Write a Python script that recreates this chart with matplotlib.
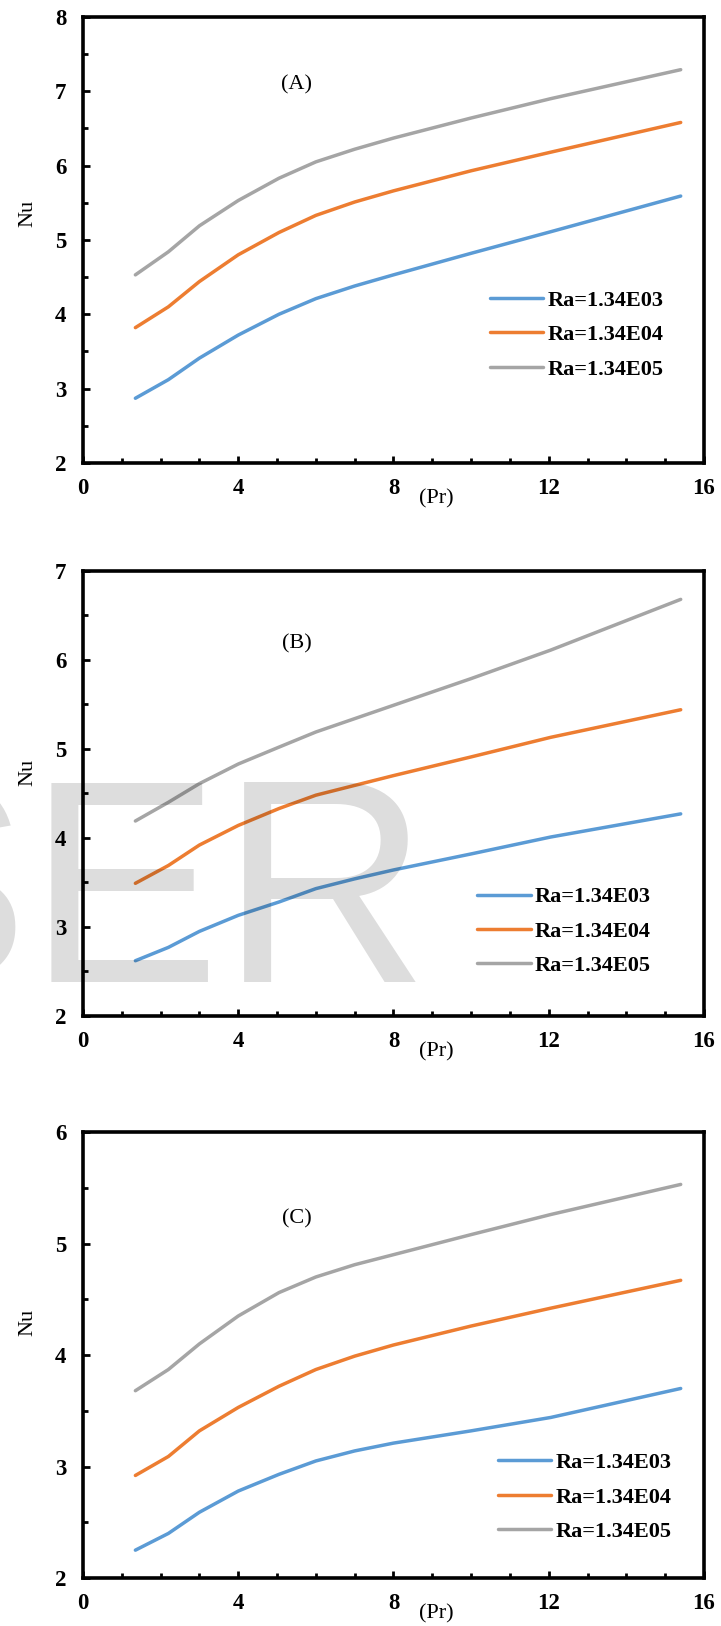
import numpy as np
import matplotlib
matplotlib.use("Agg")
import matplotlib.pyplot as plt
from matplotlib.ticker import MultipleLocator

plt.rcParams['font.family'] = ['Liberation Serif', 'DejaVu Serif']

#DATA
pr = [1.35, 2.2, 3.0, 4.0, 5.05, 6.0, 7.0, 8.0, 10.0, 12.05, 15.4]

labels = ['Ra=1.34E03', 'Ra=1.34E04', 'Ra=1.34E05']
colors = ['#5B9BD5', '#ED7D31', '#A5A5A5']

nuA = [[2.87, 3.12, 3.41, 3.72, 4.00, 4.21, 4.38, 4.53, 4.82, 5.11, 5.59],
       [3.82, 4.10, 4.44, 4.80, 5.10, 5.33, 5.51, 5.66, 5.93, 6.18, 6.58],
       [4.53, 4.84, 5.19, 5.53, 5.83, 6.05, 6.22, 6.37, 6.64, 6.90, 7.29]]
nuB = [[2.62, 2.77, 2.95, 3.13, 3.28, 3.43, 3.54, 3.64, 3.82, 4.01, 4.27],
       [3.49, 3.69, 3.92, 4.14, 4.33, 4.48, 4.59, 4.70, 4.91, 5.13, 5.44],
       [4.19, 4.40, 4.61, 4.83, 5.02, 5.19, 5.34, 5.49, 5.79, 6.11, 6.68]]
nuC = [[2.25, 2.40, 2.59, 2.78, 2.93, 3.05, 3.14, 3.21, 3.32, 3.44, 3.70],
       [2.92, 3.09, 3.32, 3.53, 3.72, 3.87, 3.99, 4.09, 4.26, 4.42, 4.67],
       [3.68, 3.87, 4.10, 4.35, 4.56, 4.70, 4.81, 4.90, 5.08, 5.26, 5.53]]

panels = ['(A)', '(B)', '(C)']
ylims = [(2, 8), (2, 7), (2, 6)]
tagY = [7.08, 6.18, 5.22]
legPos = [(0.655, 0.387), (0.635, 0.29), (0.668, 0.281)]
nuY = [0.56, 0.546, 0.574]

fig = plt.figure(figsize=(7.21, 16.26), dpi=100)
boxes = [[0.1151, 0.7153, 0.8613, 0.2743],
         [0.1151, 0.3752, 0.8613, 0.2737],
         [0.1151, 0.0295, 0.8613, 0.2743]]

for i, data in enumerate([nuA, nuB, nuC]):
    ax = fig.add_axes(boxes[i])
    for k in range(3):
        ax.plot(pr, data[k], color=colors[k], lw=2.5, label=labels[k],
                solid_capstyle='round', solid_joinstyle='round')
    ax.set_xlim(0, 16)
    ax.set_ylim(*ylims[i])
    ax.xaxis.set_major_locator(MultipleLocator(4))
    ax.xaxis.set_minor_locator(MultipleLocator(1))
    ax.yaxis.set_major_locator(MultipleLocator(1))
    ax.yaxis.set_minor_locator(MultipleLocator(0.5))
    ax.tick_params(which='both', direction='in', width=2, top=False, right=False)
    ax.tick_params(which='major', length=5)
    ax.tick_params(which='minor', length=3.5)
    ax.tick_params(axis='x', which='major', pad=11)
    ax.tick_params(axis='y', which='major', pad=12)
    for t in ax.get_xticklabels() + ax.get_yticklabels():
        t.set_fontsize(16.5)
        t.set_fontweight('bold')
    for s in ax.spines.values():
        s.set_linewidth(2.6)
    ax.set_ylabel('Nu', fontsize=16)
    ax.yaxis.set_label_coords(-0.074, nuY[i])
    ax.text(9.1, -0.08, '(Pr)', fontsize=16, ha='center', va='center',
            transform=ax.get_xaxis_transform())
    ax.text(5.5, tagY[i], panels[i], fontsize=16, ha='center', va='center')
    ax.legend(loc='upper left', bbox_to_anchor=legPos[i], frameon=False,
              prop={'family': 'Liberation Serif', 'size': 16, 'weight': 'bold'},
              handlelength=2.4, handletextpad=0.2, labelspacing=0.62,
              borderaxespad=0, borderpad=0)

# faint watermark over the middle panel
fig.text(430 / 721, 1 - 982 / 1626, 'SER', fontsize=208, family='Liberation Sans',
         color='black', alpha=0.135, ha='right', va='baseline', zorder=10)

fig.savefig('out.png', dpi=100)
